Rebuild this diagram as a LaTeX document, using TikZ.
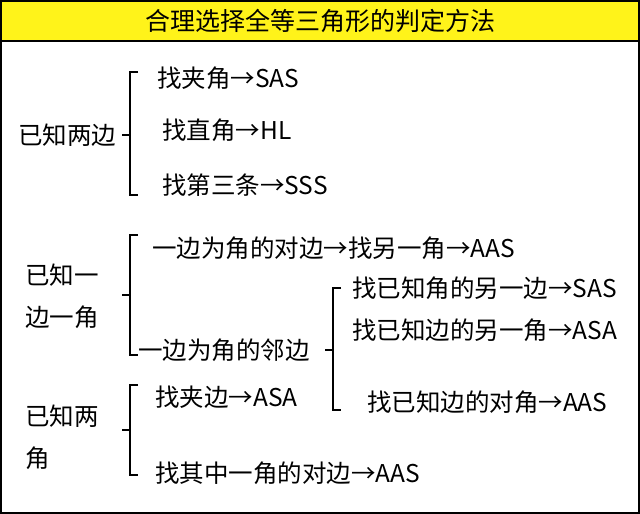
\documentclass[tikz,border=0pt]{standalone}
\usepackage{fontspec}
\setmainfont{Noto Sans CJK SC}
\begin{document}
\begin{tikzpicture}[x=1pt,y=-1pt,
  txt/.style={anchor=west,inner sep=0pt,font=\fontsize{24.5}{28}\selectfont},
  lbl/.style={anchor=west,inner sep=0pt,font=\fontsize{24.5}{42}\selectfont,align=left},
  br/.style={line width=1.3pt}]
\useasboundingbox (0,0) rectangle (640,514);
\fill[white] (0,0) rectangle (640,514);
\fill[yellow!90!white] (1,1) rectangle (639,41);
\draw[line width=2pt] (1,1) rectangle (639,513);
\draw[line width=1.5pt] (1,41) -- (639,41);
\node[inner sep=0pt,font=\fontsize{25}{28}\selectfont] (title) at (320,21) {合理选择全等三角形的判定方法};
% brace 1
\node[lbl] (l1) at (18,135) {已知两边};
\draw[br] (138,72) -- (130,72) -- (130,195) -- (138,195) (130,135) -- (122,135);
\node[txt] (a1) at (157,78) {找夹角→SAS};
\node[txt] (a2) at (162,130) {找直角→HL};
\node[txt] (a3) at (162,185) {找第三条→SSS};
% brace 2
\node[lbl] (l2) at (25,296) {已知一\\边一角};
\draw[br] (138,235) -- (130,235) -- (130,355) -- (138,355) (130,295) -- (122,295);
\node[txt] (b1) at (152,248) {一边为角的对边→找另一角→AAS};
\node[txt] (b2) at (138,350) {一边为角的邻边};
% brace 3
\draw[br] (341,288) -- (333,288) -- (333,410) -- (341,410) (333,350) -- (325,350);
\node[txt] (c1) at (352,288) {找已知角的另一边→SAS};
\node[txt] (c2) at (352,330) {找已知边的另一角→ASA};
\node[txt] (c3) at (367,402) {找已知边的对角→AAS};
% brace 4
\node[lbl] (l3) at (25,437) {已知两\\角};
\draw[br] (138,385) -- (130,385) -- (130,475) -- (138,475) (130,430) -- (122,430);
\node[txt] (d1) at (155,397) {找夹边→ASA};
\node[txt] (d2) at (155,473) {找其中一角的对边→AAS};
\end{tikzpicture}
\end{document}
